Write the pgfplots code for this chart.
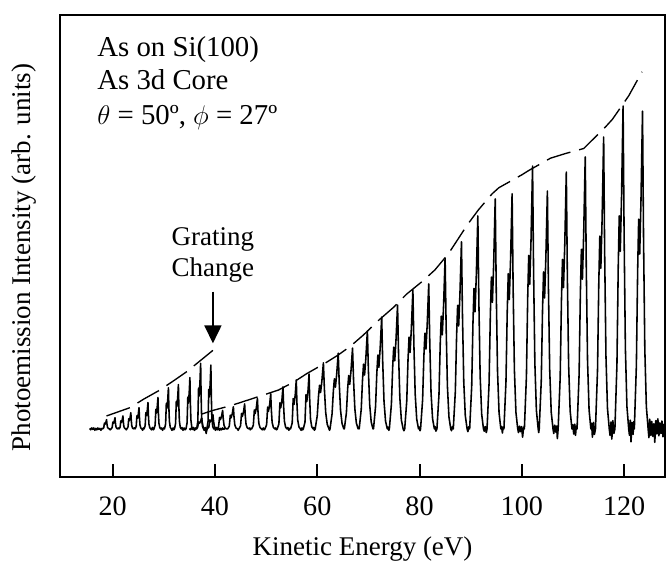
\documentclass[12pt,border=0pt]{standalone}
\usepackage{fontspec}
\setmainfont{Liberation Serif}
\usepackage{pgfplots}
\pgfplotsset{compat=1.18}
\usetikzlibrary{arrows.meta}
\begin{document}
\begin{tikzpicture}
\begin{axis}[
  scale only axis,
  width=268.9pt, height=205.3pt,
  xmin=9.7, xmax=128, ymin=0, ymax=100,
  xtick={20,40,60,80,100,120},
  ytick=\empty,
  xtick pos=bottom,
  tick align=inside,
  major tick length=5.8pt,
  every tick/.style={black, line width=0.9pt},
  axis line style={line width=0.9pt},
  /pgf/number format/assume math mode=true,
  xticklabel style={anchor=center, yshift=-13pt, font=\fontsize{12.5}{14}\selectfont},
  xlabel={Kinetic Energy (eV)},
  ylabel={Photoemission Intensity (arb. units)},
  xlabel style={at={(axis description cs:0.5,-0.156)}, anchor=center, font=\fontsize{12}{14}\selectfont},
  ylabel style={at={(axis description cs:-0.0595,0.475)}, anchor=center, font=\fontsize{12}{14}\selectfont},
]
% series A (before grating change)
\addplot[black, line width=0.7pt, line join=round] coordinates {
(15.5,10.5)(15.7,10.2)(15.9,10.6)(16.1,10.3)(16.3,10.6)(16.5,10.1)(16.7,10.5)(16.9,10.2)(17.1,10.6)(17.3,10.3)(17.5,10.5)(17.7,10.1)(17.9,10.5)
(18.03,10.4)(18.25,10.64)(18.39,11.64)(18.50,11.4)(18.66,11.8)(18.8,12.4)(18.88,11.5)(18.99,10.76)(19.16,10.48)(19.35,10.4)
(19.5,10.2)
(19.68,10.4)(19.90,10.69)(20.04,11.89)(20.15,11.6)(20.31,12.08)(20.45,12.8)(20.53,11.72)(20.64,10.83)(20.81,10.5)(21.0,10.4)
(21.12,10.6)
(21.23,10.4)(21.45,10.74)(21.59,12.14)(21.70,11.8)(21.86,12.36)(22.0,13.2)(22.08,11.94)(22.19,10.9)(22.36,10.51)(22.55,10.4)
(22.66,10.2)
(22.78,10.4)(23.0,10.82)(23.14,12.57)(23.25,12.15)(23.41,12.85)(23.55,13.9)(23.63,12.33)(23.74,11.03)(23.91,10.54)(24.1,10.4)
(24.24,10.6)
(24.38,10.4)(24.60,10.95)(24.74,13.25)(24.85,12.7)(25.01,13.62)(25.15,15.0)(25.23,12.93)(25.34,11.23)(25.51,10.58)(25.7,10.4)
(25.85,10.1)(26.0,10.6)
(26.13,10.4)(26.35,11.08)(26.49,13.93)(26.60,13.25)(26.76,14.39)(26.9,16.1)(26.98,13.54)(27.09,11.43)(27.26,10.63)(27.45,10.4)
(27.6,10.2)(27.78,10.7)(27.95,10.2)
(28.08,10.4)(28.30,11.22)(28.44,14.62)(28.55,13.8)(28.71,15.16)(28.85,17.2)(28.93,14.14)(29.04,11.62)(29.21,10.67)(29.4,10.4)
(29.55,10.6)(29.75,10.1)(29.95,10.6)
(30.13,10.4)(30.35,11.47)(30.49,15.92)(30.60,14.85)(30.76,16.63)(30.9,19.3)(30.98,15.3)(31.09,12.0)(31.26,10.76)(31.45,10.4)
(31.6,10.1)(31.8,10.6)(31.95,10.2)
(32.08,10.4)(32.30,11.55)(32.44,16.35)(32.55,15.2)(32.71,17.12)(32.85,20.0)(32.93,15.68)(33.04,12.13)(33.21,10.78)(33.4,10.4)
(33.55,10.7)(33.75,10.1)(33.95,10.6)(34.15,10.2)
(34.33,10.4)(34.55,11.73)(34.69,17.28)(34.80,15.95)(34.96,18.17)(35.1,21.5)(35.18,16.51)(35.29,12.4)(35.46,10.84)(35.65,10.4)
(35.8,10.7)(36.0,10.1)(36.2,10.6)
(36.43,10.4)(36.65,12.1)(36.79,19.2)(36.90,17.5)(37.06,20.34)(37.2,24.6)(37.28,18.21)(37.39,12.96)(37.56,10.97)(37.75,10.4)
(37.9,10.1)(38.1,10.7)(38.28,9.4)
(38.43,10.4)(38.65,12.06)(38.79,18.96)(38.90,17.3)(39.06,20.06)(39.2,24.2)(39.28,17.99)(39.39,12.88)(39.56,10.95)(39.75,10.4)
(39.9,10.6)(40.1,10.1)(40.3,10.7)(40.5,10.2)(40.7,10.6)(40.9,10.1)(41.1,10.5)(41.3,10.2)(41.5,10.6)(41.7,10.3)(42.0,10.5)
};
% series B (after grating change)
\addplot[black, line width=0.7pt, line join=round] coordinates {
(35.0,10.5)(35.2,10.2)(35.4,10.6)(35.6,10.3)(35.8,10.5)(36.0,10.1)(36.15,10.5)
(36.28,10.4)(36.6,10.69)(36.8,11.89)(36.96,11.6)(37.2,12.08)(37.4,12.8)(37.52,11.72)(37.68,10.83)(37.92,10.5)(38.2,10.4)
(38.34,10.1)
(38.48,10.4)(38.8,10.77)(39.0,12.32)(39.16,11.95)(39.4,12.57)(39.6,13.5)(39.72,12.11)(39.88,10.96)(40.12,10.52)(40.3,10.4)
(40.45,10.4)(40.7,10.88)(40.9,12.88)(41.06,12.4)(41.3,13.2)(41.5,14.4)(41.62,12.6)(41.78,11.12)(42.02,10.56)(42.3,10.4)
(42.48,10.4)(42.8,10.98)(43.0,13.38)(43.16,12.8)(43.4,13.76)(43.6,15.2)(43.72,13.04)(43.88,11.26)(44.12,10.59)(44.4,10.4)
(44.54,10.1)
(44.68,10.4)(45.0,11.05)(45.2,13.75)(45.36,13.1)(45.6,14.18)(45.8,15.8)(45.92,13.37)(46.08,11.37)(46.32,10.62)(46.6,10.4)
(46.75,10.6)(46.9,10.2)(47.05,10.5)
(47.18,10.4)(47.5,11.19)(47.7,14.49)(47.86,13.7)(48.1,15.02)(48.3,17.0)(48.42,14.03)(48.58,11.59)(48.82,10.66)(49.1,10.4)
(49.25,10.2)(49.45,10.6)(49.62,10.2)
(49.78,10.4)(50.1,11.31)(50.3,15.11)(50.46,14.2)(50.7,15.72)(50.9,18.0)(51.02,14.58)(51.18,11.77)(51.42,10.7)(51.7,10.4)
(51.85,10.6)(52.0,10.2)
(52.18,10.4)(52.5,11.49)(52.7,16.04)(52.86,14.95)(53.1,16.77)(53.3,19.5)(53.42,15.4)(53.58,12.04)(53.82,10.76)(54.1,10.4)
(54.25,10.7)(54.45,10.1)(54.62,10.5)
(54.78,10.4)(55.1,11.67)(55.3,16.97)(55.46,15.7)(55.7,17.82)(55.9,21.0)(56.02,16.23)(56.18,12.31)(56.42,10.82)(56.7,10.4)
(56.85,10.1)(57.0,10.6)(57.15,10.2)
(57.28,10.4)(57.6,11.83)(57.8,17.78)(57.96,16.35)(58.2,18.73)(58.4,22.3)(58.52,16.95)(58.68,12.54)(58.92,10.88)(59.2,10.4)
(59.3,10.7)(59.45,10.1)
(59.6,10.4)(60.0,13.26)(60.25,17.55)(60.45,19.84)(60.65,18.27)(60.9,20.7)(61.2,24.7)(61.4,18.98)(61.65,13.98)(61.95,11.4)(62.3,10.4)
(62.4,10.1)
(62.5,10.4)(62.9,13.68)(63.15,18.6)(63.35,21.22)(63.55,19.42)(63.8,22.21)(64.1,26.8)(64.3,20.24)(64.55,14.5)(64.85,11.55)(65.2,10.4)
(65.3,10.4)(65.7,13.9)(65.95,19.15)(66.15,21.95)(66.35,20.03)(66.6,23.0)(66.9,27.9)(67.1,20.9)(67.35,14.78)(67.65,11.63)(68.0,10.4)
(68.1,10.7)
(68.2,10.4)(68.6,14.64)(68.85,21.0)(69.05,24.39)(69.25,22.06)(69.5,25.66)(69.8,31.6)(70.0,23.12)(70.25,15.7)(70.55,11.88)(70.9,10.4)
(71.0,10.4)(71.4,15.24)(71.65,22.5)(71.85,26.37)(72.05,23.71)(72.3,27.82)(72.6,34.6)(72.8,24.92)(73.05,16.45)(73.35,12.09)(73.7,10.4)
(73.85,10.8)(74.0,10.1)
(74.1,10.4)(74.5,15.76)(74.75,23.8)(74.95,28.09)(75.15,25.14)(75.4,29.7)(75.7,37.2)(75.9,26.48)(76.15,17.1)(76.45,12.28)(76.8,10.4)
(76.95,10.0)
(77.1,10.4)(77.5,16.42)(77.75,25.45)(77.95,30.27)(78.15,26.96)(78.4,32.07)(78.7,40.5)(78.9,28.46)(79.15,17.93)(79.45,12.51)(79.8,10.4)
(79.95,10.8)(80.1,10.0)
(80.2,10.4)(80.6,16.68)(80.85,26.1)(81.05,31.12)(81.25,27.67)(81.5,33.01)(81.8,41.8)(82.0,29.24)(82.25,18.25)(82.55,12.6)(82.9,10.4)
(83.05,10.9)(83.2,9.9)
(83.4,10.4)(83.8,17.8)(84.05,28.9)(84.25,34.82)(84.45,30.75)(84.7,37.04)(85.0,47.4)(85.2,32.6)(85.45,19.65)(85.75,12.99)(86.1,10.4)
(86.25,10.0)(86.45,10.9)
(86.6,10.4)(87.0,18.5)(87.25,30.65)(87.45,37.13)(87.65,32.68)(87.9,39.56)(88.2,50.9)(88.4,34.7)(88.65,20.53)(88.95,13.24)(89.3,10.4)
(89.45,9.8)(89.65,10.9)
(89.8,10.4)(90.2,19.62)(90.45,33.45)(90.65,40.83)(90.85,35.76)(91.1,43.59)(91.4,56.5)(91.6,38.06)(91.85,21.93)(92.15,13.63)(92.5,10.4)
(92.65,9.9)(92.85,10.9)(93.05,9.6)
(93.2,10.4)(93.6,20.36)(93.85,35.3)(94.05,43.27)(94.25,37.79)(94.5,46.26)(94.8,60.2)(95.0,40.28)(95.25,22.85)(95.55,13.89)(95.9,10.4)
(96.05,10.9)(96.2,9.5)(96.35,10.8)
(96.5,10.4)(96.9,20.58)(97.15,35.85)(97.35,43.99)(97.55,38.4)(97.8,47.05)(98.1,61.3)(98.3,40.94)(98.55,23.13)(98.85,13.96)(99.2,10.4)
(99.35,9.6)(99.55,11.0)(99.75,9.8)(99.95,10.9)(100.15,8.6)(100.35,10.8)
(100.5,10.4)(100.9,21.78)(101.15,38.85)(101.35,47.95)(101.55,41.7)(101.8,51.37)(102.1,67.3)(102.3,44.54)(102.55,24.63)(102.85,14.38)(103.2,10.4)
(103.3,9.6)
(103.4,10.4)(103.8,20.7)(104.05,36.15)(104.25,44.39)(104.45,38.73)(104.7,47.48)(105.0,61.9)(105.2,41.3)(105.45,23.28)(105.75,14.01)(106.1,10.4)
(106.25,9.4)(106.45,11.2)(106.65,9.7)(106.8,11.0)(106.95,8.3)
(107.1,10.4)(107.5,21.52)(107.75,38.2)(107.95,47.1)(108.15,40.98)(108.4,50.43)(108.7,66.0)(108.9,43.76)(109.15,24.3)(109.45,14.29)(109.8,10.4)
(109.95,11.3)(110.15,9.3)(110.35,11.4)(110.5,9.0)(110.65,11.0)
(110.8,10.4)(111.2,22.18)(111.45,39.85)(111.65,49.27)(111.85,42.8)(112.1,52.81)(112.4,69.3)(112.6,45.74)(112.85,25.13)(113.15,14.52)(113.5,10.4)
(113.65,11.6)(113.8,8.6)(114.0,11.8)(114.2,9.2)
(114.4,10.4)(114.8,23.04)(115.05,42.0)(115.25,52.11)(115.45,45.16)(115.7,55.9)(116.0,73.6)(116.2,48.32)(116.45,26.2)(116.75,14.82)(117.1,10.4)
(117.25,9.0)(117.45,11.9)(117.6,8.2)(117.8,12.2)(118.0,9.4)
(118.2,10.4)(118.6,24.38)(118.85,45.35)(119.05,56.53)(119.25,48.85)(119.5,60.73)(119.8,80.3)(120.0,52.34)(120.25,27.88)(120.55,15.29)(120.9,10.4)
(121.05,9.0)(121.2,12.3)(121.35,7.6)(121.55,11.8)(121.75,9.2)(121.9,12.0)
(122.0,10.4)(122.4,24.16)(122.65,44.8)(122.85,55.81)(123.05,48.24)(123.3,59.94)(123.6,79.2)(123.8,51.68)(124.05,27.6)(124.35,15.22)(124.7,10.4)
(124.85,8.5)(125.0,12.5)(125.2,9.0)(125.4,12.0)(125.6,8.8)(125.8,11.5)(126.0,7.5)(126.2,12.2)(126.4,9.3)(126.6,12.6)(126.8,8.9)(127.0,11.7)(127.2,9.4)(127.4,12.1)(127.6,8.7)(127.8,11.4)(128.0,10.0)
};
% envelopes (dashed)
\addplot[black, line width=0.6pt, dash pattern=on 11pt off 4pt] coordinates {
(18.8,13.2)(23.4,15.0)(26.0,16.8)(28.9,18.6)(31.5,20.5)(34.5,22.8)(36.5,24.6)(39.6,27.4)
};
\addplot[black, line width=0.6pt, dash pattern=on 11pt off 4pt] coordinates {
(37.4,13.6)(39.6,14.4)(43.0,15.4)(46.9,16.8)(52.4,18.8)(55.5,20.6)(58.0,22.4)(61.5,24.6)(64.1,26.4)(66.5,28.3)(69.0,30.7)(72.0,33.9)(74.9,36.7)(77.5,39.6)(80.5,42.3)(83.0,44.8)(85.7,48.4)(89.3,54.5)(91.5,57.8)(94.2,61.3)(95.5,62.6)(100.0,65.4)(101.3,66.3)(105.6,69.0)(108.5,70.0)(112.1,71.1)(116.3,75.7)(117.7,77.4)(120.9,82.5)(123.5,87.7)
};
% annotations
\node[anchor=base west, inner sep=0pt, font=\fontsize{12.8}{15}\selectfont] at (rel axis cs:0.061,0.911) {As on Si(100)};
\node[anchor=base west, inner sep=0pt, font=\fontsize{12.8}{15}\selectfont] at (rel axis cs:0.061,0.838) {As 3d Core};
\node[anchor=base west, inner sep=0pt, font=\fontsize{12.8}{15}\selectfont] at (rel axis cs:0.061,0.764) {$\theta$ = 50º, $\phi$ = 27º};
\node[anchor=base, inner sep=0pt] at (axis cs:39.6,50.2) {Grating};
\node[anchor=base, inner sep=0pt] at (axis cs:39.6,43.3) {Change};
\draw[line width=1.2pt, -{Triangle[length=8pt, width=7.4pt]}] (axis cs:39.6,40.1) -- (axis cs:39.6,28.9);
\end{axis}
\pgfresetboundingbox
\path[use as bounding box] ([shift={(-26.67pt,-39.56pt)}]current axis.south west) rectangle ([shift={(0.44pt,6.67pt)}]current axis.north east);
\end{tikzpicture}
\end{document}
